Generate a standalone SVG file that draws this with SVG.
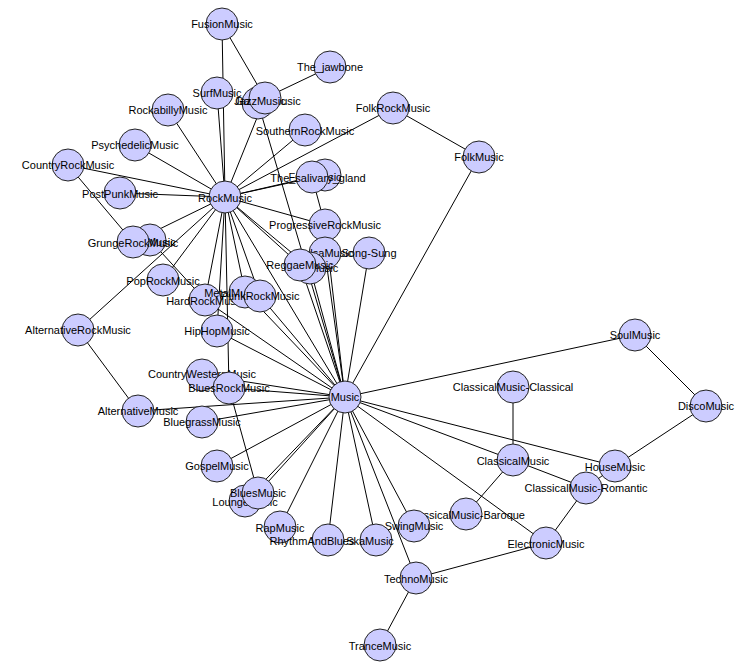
<svg xmlns="http://www.w3.org/2000/svg" width="748" height="670" viewBox="0 0 748 670">
<style>
.e line{stroke:#000;stroke-width:1}
.n circle{fill:#ccccff;stroke:#222;stroke-width:1}
.n text{font-family:"Liberation Sans",Arial,sans-serif;font-size:11px;fill:#000;text-anchor:middle;dominant-baseline:central}
</style>
<rect width="748" height="670" fill="#fff"/>
<g id="connectors" class="e">
<line x1="222" y1="24" x2="265" y2="98"/><line x1="222" y1="24" x2="225" y2="197"/>
<line x1="217" y1="93" x2="225" y2="197"/><line x1="330" y1="67" x2="265" y2="98"/>
<line x1="265" y1="98" x2="225" y2="197"/><line x1="258" y1="103" x2="345" y2="397"/>
<line x1="168" y1="110" x2="225" y2="197"/><line x1="393" y1="108" x2="225" y2="197"/>
<line x1="393" y1="108" x2="479" y2="157"/><line x1="305" y1="130" x2="225" y2="197"/>
<line x1="135" y1="145" x2="225" y2="197"/><line x1="68" y1="165" x2="225" y2="197"/>
<line x1="68" y1="165" x2="133" y2="242"/><line x1="479" y1="157" x2="345" y2="397"/>
<line x1="312" y1="177" x2="225" y2="197"/><line x1="325" y1="175" x2="225" y2="197"/>
<line x1="312" y1="177" x2="325" y2="225"/><line x1="325" y1="225" x2="225" y2="197"/>
<line x1="325" y1="225" x2="345" y2="397"/><line x1="325" y1="253" x2="345" y2="397"/>
<line x1="369" y1="253" x2="345" y2="397"/><line x1="120" y1="193" x2="225" y2="197"/>
<line x1="133" y1="242" x2="225" y2="197"/><line x1="150" y1="240" x2="205" y2="300"/>
<line x1="163" y1="280" x2="225" y2="197"/><line x1="225" y1="197" x2="78" y2="330"/>
<line x1="78" y1="330" x2="138" y2="411"/><line x1="138" y1="411" x2="345" y2="397"/>
<line x1="225" y1="197" x2="205" y2="300"/><line x1="225" y1="197" x2="245" y2="292"/>
<line x1="225" y1="197" x2="260" y2="296"/><line x1="225" y1="197" x2="300" y2="265"/>
<line x1="225" y1="197" x2="229" y2="388"/><line x1="225" y1="197" x2="345" y2="397"/>
<line x1="225" y1="197" x2="217" y2="331"/><line x1="225" y1="197" x2="310" y2="268"/>
<line x1="300" y1="265" x2="345" y2="397"/><line x1="310" y1="268" x2="345" y2="397"/>
<line x1="260" y1="296" x2="345" y2="397"/><line x1="245" y1="292" x2="345" y2="397"/>
<line x1="205" y1="300" x2="345" y2="397"/><line x1="217" y1="331" x2="345" y2="397"/>
<line x1="202" y1="375" x2="345" y2="397"/><line x1="229" y1="388" x2="345" y2="397"/>
<line x1="202" y1="422" x2="345" y2="397"/><line x1="217" y1="466" x2="345" y2="397"/>
<line x1="258" y1="493" x2="345" y2="397"/><line x1="245" y1="501" x2="345" y2="397"/>
<line x1="280" y1="527" x2="345" y2="397"/><line x1="328" y1="540" x2="345" y2="397"/>
<line x1="376" y1="540" x2="345" y2="397"/><line x1="414" y1="526" x2="345" y2="397"/>
<line x1="416" y1="578" x2="345" y2="397"/><line x1="546" y1="543" x2="345" y2="397"/>
<line x1="513" y1="460" x2="345" y2="397"/><line x1="615" y1="466" x2="345" y2="397"/>
<line x1="635" y1="335" x2="345" y2="397"/><line x1="229" y1="388" x2="258" y2="493"/>
<line x1="635" y1="335" x2="706" y2="406"/><line x1="706" y1="406" x2="615" y2="466"/>
<line x1="615" y1="466" x2="586" y2="488"/><line x1="586" y1="488" x2="546" y2="543"/>
<line x1="513" y1="387" x2="513" y2="460"/><line x1="513" y1="460" x2="586" y2="488"/>
<line x1="513" y1="460" x2="466" y2="514"/><line x1="546" y1="543" x2="416" y2="578"/>
<line x1="416" y1="578" x2="380" y2="645"/>
</g>
<g id="FusionMusic" class="n"><circle cx="222" cy="24" r="16"/><text x="222" y="24">FusionMusic</text></g>
<g id="The_jawbone" class="n"><circle cx="330" cy="67" r="16"/><text x="330" y="67">The_jawbone</text></g>
<g id="SurfMusic" class="n"><circle cx="217" cy="93" r="16"/><text x="217" y="93">SurfMusic</text></g>
<g id="GarageMusic" class="n"><circle cx="258" cy="103" r="16"/><text x="268" y="101">GarageMusic</text></g>
<g id="JazzMusic" class="n"><circle cx="265" cy="98" r="16"/><text x="260" y="101">JazzMusic</text></g>
<g id="RockabillyMusic" class="n"><circle cx="168" cy="110" r="16"/><text x="168" y="110">RockabillyMusic</text></g>
<g id="FolkRockMusic" class="n"><circle cx="393" cy="108" r="16"/><text x="393" y="108">FolkRockMusic</text></g>
<g id="SouthernRockMusic" class="n"><circle cx="305" cy="130" r="16"/><text x="305" y="131">SouthernRockMusic</text></g>
<g id="PsychedelicMusic" class="n"><circle cx="135" cy="145" r="16"/><text x="135" y="145">PsychedelicMusic</text></g>
<g id="CountryRockMusic" class="n"><circle cx="68" cy="165" r="16"/><text x="68" y="165">CountryRockMusic</text></g>
<g id="FolkMusic" class="n"><circle cx="479" cy="157" r="16"/><text x="479" y="157">FolkMusic</text></g>
<g id="FunkMusic" class="n"><circle cx="325" cy="175" r="16"/><text x="315" y="177">FunkMusic</text></g>
<g id="The_salivary_gland" class="n"><circle cx="312" cy="177" r="16"/><text x="318" y="178">The_salivary_gland</text></g>
<g id="RockMusic" class="n"><circle cx="225" cy="197" r="16"/><text x="225" y="198">RockMusic</text></g>
<g id="PostPunkMusic" class="n"><circle cx="120" cy="193" r="16"/><text x="120" y="194">PostPunkMusic</text></g>
<g id="ProgressiveRockMusic" class="n"><circle cx="325" cy="225" r="16"/><text x="325" y="225">ProgressiveRockMusic</text></g>
<g id="EmoMusic" class="n"><circle cx="150" cy="240" r="16"/><text x="150" y="242">EmoMusic</text></g>
<g id="GrungeRockMusic" class="n"><circle cx="133" cy="242" r="16"/><text x="133" y="243">GrungeRockMusic</text></g>
<g id="SalsaMusic" class="n"><circle cx="325" cy="253" r="16"/><text x="325" y="253">SalsaMusic</text></g>
<g id="Song-Sung" class="n"><circle cx="369" cy="253" r="16"/><text x="369" y="253">Song-Sung</text></g>
<g id="PopRockMusic" class="n"><circle cx="163" cy="280" r="16"/><text x="163" y="281">PopRockMusic</text></g>
<g id="LatinMusic" class="n"><circle cx="310" cy="268" r="16"/><text x="312" y="268">LatinMusic</text></g>
<g id="ReggaeMusic" class="n"><circle cx="300" cy="265" r="16"/><text x="300" y="265">ReggaeMusic</text></g>
<g id="HardRockMusic" class="n"><circle cx="205" cy="300" r="16"/><text x="205" y="301">HardRockMusic</text></g>
<g id="MetalMusic" class="n"><circle cx="245" cy="292" r="16"/><text x="232" y="293">MetalMusic</text></g>
<g id="PunkRockMusic" class="n"><circle cx="260" cy="296" r="16"/><text x="260" y="296">PunkRockMusic</text></g>
<g id="AlternativeRockMusic" class="n"><circle cx="78" cy="330" r="16"/><text x="78" y="330">AlternativeRockMusic</text></g>
<g id="SoulMusic" class="n"><circle cx="635" cy="335" r="16"/><text x="635" y="335">SoulMusic</text></g>
<g id="HipHopMusic" class="n"><circle cx="217" cy="331" r="16"/><text x="217" y="331">HipHopMusic</text></g>
<g id="CountryWesternMusic" class="n"><circle cx="202" cy="375" r="16"/><text x="202" y="374">CountryWesternMusic</text></g>
<g id="BluesRockMusic" class="n"><circle cx="229" cy="388" r="16"/><text x="229" y="388">BluesRockMusic</text></g>
<g id="ClassicalMusic-Classical" class="n"><circle cx="513" cy="387" r="16"/><text x="513" y="387">ClassicalMusic-Classical</text></g>
<g id="Music" class="n"><circle cx="345" cy="397" r="16"/><text x="345" y="397">Music</text></g>
<g id="AlternativeMusic" class="n"><circle cx="138" cy="411" r="16"/><text x="138" y="411">AlternativeMusic</text></g>
<g id="DiscoMusic" class="n"><circle cx="706" cy="406" r="16"/><text x="706" y="406">DiscoMusic</text></g>
<g id="BluegrassMusic" class="n"><circle cx="202" cy="422" r="16"/><text x="202" y="422">BluegrassMusic</text></g>
<g id="GospelMusic" class="n"><circle cx="217" cy="466" r="16"/><text x="217" y="466">GospelMusic</text></g>
<g id="ClassicalMusic" class="n"><circle cx="513" cy="460" r="16"/><text x="513" y="461">ClassicalMusic</text></g>
<g id="HouseMusic" class="n"><circle cx="615" cy="466" r="16"/><text x="615" y="467">HouseMusic</text></g>
<g id="ClassicalMusic-Romantic" class="n"><circle cx="586" cy="488" r="16"/><text x="586" y="488">ClassicalMusic-Romantic</text></g>
<g id="LoungeMusic" class="n"><circle cx="245" cy="501" r="16"/><text x="245" y="502">LoungeMusic</text></g>
<g id="BluesMusic" class="n"><circle cx="258" cy="493" r="16"/><text x="258" y="493">BluesMusic</text></g>
<g id="RapMusic" class="n"><circle cx="280" cy="527" r="16"/><text x="280" y="528">RapMusic</text></g>
<g id="ClassicalMusic-Baroque" class="n"><circle cx="466" cy="514" r="16"/><text x="466" y="515">ClassicalMusic-Baroque</text></g>
<g id="SwingMusic" class="n"><circle cx="414" cy="526" r="16"/><text x="414" y="526">SwingMusic</text></g>
<g id="RhythmAndBlues" class="n"><circle cx="328" cy="540" r="16"/><text x="312" y="541">RhythmAndBlues</text></g>
<g id="SkaMusic" class="n"><circle cx="376" cy="540" r="16"/><text x="370" y="541">SkaMusic</text></g>
<g id="ElectronicMusic" class="n"><circle cx="546" cy="543" r="16"/><text x="546" y="544">ElectronicMusic</text></g>
<g id="TechnoMusic" class="n"><circle cx="416" cy="578" r="16"/><text x="416" y="579">TechnoMusic</text></g>
<g id="TranceMusic" class="n"><circle cx="380" cy="645" r="16"/><text x="380" y="646">TranceMusic</text></g>
</svg>
